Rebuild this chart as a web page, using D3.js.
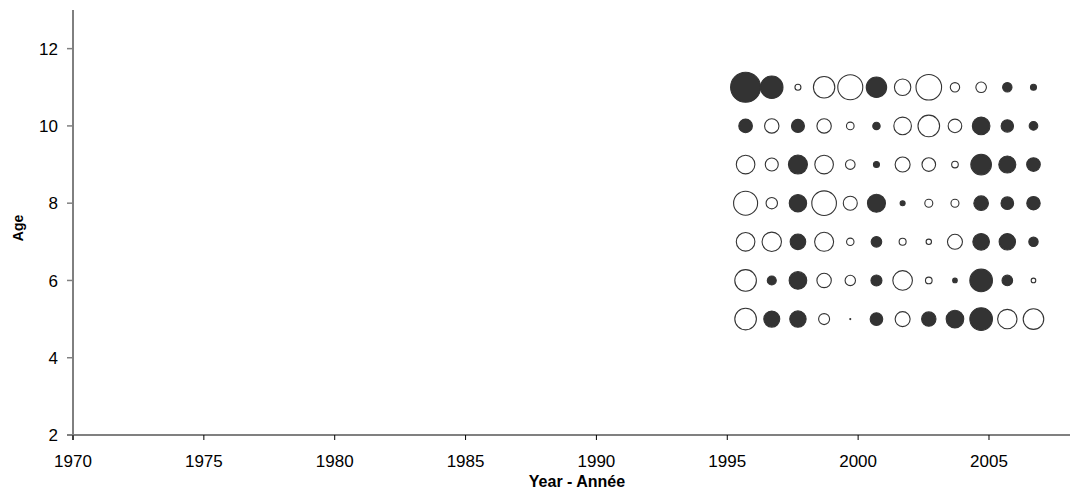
<!DOCTYPE html>
<html>
<head>
<meta charset="utf-8">
<script src="https://cdn.jsdelivr.net/npm/d3@7"></script>
<style>
  body { margin: 0; background: #fff; }
  svg { display: block; font-family: Arial, "Liberation Sans", sans-serif; }
</style>
</head>
<body>
<svg id="chart" width="1070" height="495"></svg>
<script>
// Residuals by age (rows) and year (columns); positive = filled, negative = open
const years = [1996, 1997, 1998, 1999, 2000, 2001, 2002, 2003, 2004, 2005, 2006, 2007];
const ages = [11, 10, 9, 8, 7, 6, 5];
const age11 = [9.0, 5.02, -0.36, -4.58, -6.25, 4.16, -2.69, -6.55, -0.88, -1.12, 0.88, 0.36];
const age10 = [1.85, -2.07, 1.69, -2.07, -0.58, 0.55, -3.10, -4.67, -1.85, 3.10, 1.54, 0.74];
const age9  = [-3.46, -1.69, 3.61, -3.46, -0.92, 0.36, -2.25, -1.85, -0.44, 4.24, 2.89, 1.85];
const age8  = [-5.76, -1.30, 3.03, -6.05, -1.96, 3.24, 0.25, -0.64, -0.64, 2.13, 1.59, 1.80];
const age7  = [-3.46, -3.76, 2.43, -3.61, -0.55, 1.12, -0.49, -0.29, -2.25, 2.76, 2.69, 0.88];
const age6  = [-4.67, 0.81, 3.10, -2.07, -1.08, 1.21, -3.84, -0.44, 0.21, 5.11, 1.12, -0.21];
const age5  = [-4.67, 2.56, 2.69, -1.21, 0.01, 1.59, -2.25, 2.07, 3.10, 5.11, -3.76, -4.24];
const residuals = [age11, age10, age9, age8, age7, age6, age5];

const xTicks = [1970, 1975, 1980, 1985, 1990, 1995, 2000, 2005];
const yTicks = [2, 4, 6, 8, 10, 12];

const svg = d3.select("#chart");

const x = d3.scaleLinear().domain([1970, 2008]).range([73, 1067.5]);
const y = d3.scaleLinear().domain([2, 13]).range([435, 10]);
const r = d3.scaleSqrt().domain([0, 9]).range([0, 15]);
// bubbles sit slightly before each year's tick
const yearShift = -0.3;

const points = [];
ages.forEach((a, i) => {
  years.forEach((yr, j) => points.push({ age: a, year: yr, v: residuals[i][j] }));
});

svg.append("g").selectAll("circle")
  .data(points)
  .join("circle")
  .attr("cx", d => x(d.year + yearShift))
  .attr("cy", d => y(d.age))
  .attr("r", d => r(Math.abs(d.v)))
  .attr("fill", d => d.v > 0 ? "#333333" : "#ffffff")
  .attr("stroke", "#333333")
  .attr("stroke-width", 1.1);

// Y axis
const yAxis = svg.append("g");
yAxis.append("line")
  .attr("x1", x(1970)).attr("x2", x(1970))
  .attr("y1", y(13)).attr("y2", y(2) + 5)
  .attr("stroke", "#000").attr("stroke-width", 1);
yAxis.selectAll(".yt").data(yTicks).join("line")
  .attr("x1", x(1970) - 6).attr("x2", x(1970))
  .attr("y1", d => y(d)).attr("y2", d => y(d))
  .attr("stroke", "#808080").attr("stroke-width", 1.5);
yAxis.selectAll("text").data(yTicks).join("text")
  .attr("x", x(1970) - 15).attr("y", d => y(d))
  .attr("dy", "0.36em")
  .attr("text-anchor", "end")
  .attr("font-size", 17)
  .text(d => d);

// X axis
const xAxis = svg.append("g");
xAxis.append("line")
  .attr("x1", x(1970) - 6).attr("x2", 1070)
  .attr("y1", y(2)).attr("y2", y(2))
  .attr("stroke", "#808080").attr("stroke-width", 2);
xAxis.selectAll(".xt").data(xTicks).join("line")
  .attr("x1", d => x(d)).attr("x2", d => x(d))
  .attr("y1", y(2)).attr("y2", y(2) + 5)
  .attr("stroke", "#000").attr("stroke-width", 1);
xAxis.selectAll("text").data(xTicks).join("text")
  .attr("x", d => x(d)).attr("y", 467)
  .attr("text-anchor", "middle")
  .attr("font-size", 17)
  .text(d => d);

// Axis titles
svg.append("text")
  .attr("x", 577).attr("y", 487)
  .attr("text-anchor", "middle")
  .attr("font-size", 16).attr("font-weight", "bold")
  .text("Year - Année");
svg.append("text")
  .attr("transform", "translate(23,228) rotate(-90)")
  .attr("text-anchor", "middle")
  .attr("font-size", 14).attr("font-weight", "bold")
  .text("Age");
</script>
</body>
</html>
